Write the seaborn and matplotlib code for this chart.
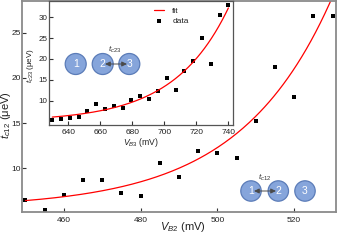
import numpy as np
import pandas as pd
import matplotlib
matplotlib.use('Agg')
import matplotlib.pyplot as plt
import seaborn as sns
from matplotlib.patches import Circle

# main panel: t_c12 against V_B2
vb2 = [450, 455, 460, 465, 470, 475, 480, 485, 490, 495, 500, 505, 510, 515, 520, 525, 530]
tc12 = [6.47, 5.44, 7.06, 8.71, 8.71, 7.24, 6.91, 10.55, 9.04, 11.94, 11.65, 11.14,
        15.25, 21.17, 17.9, 26.9, 26.9]

# inset: t_c23 against V_B3
vb3 = [630, 635.5, 641, 646.5, 652, 657.5, 663, 668.5, 674, 679.5, 685, 690.5, 696,
       701.5, 707, 712.5, 718, 723.5, 729, 734.5, 740]
tc23 = [5.3, 5.6, 5.8, 6.0, 7.55, 9.13, 7.95, 8.73, 8.35, 10.2, 11.1, 10.5, 12.26,
        15.5, 12.66, 17.1, 19.55, 25.1, 18.85, 30.6, 32.9]

# exponential fits: offset + amp*exp((V - v0)/tau)
fit12 = (5.6, 0.834, 450, 24.0)
fit23 = (5.0, 1.07, 630, 34.0)

sns.set_theme(style='ticks')
plt.rcParams['font.family'] = ['Liberation Sans', 'DejaVu Sans']
plt.rcParams['mathtext.fontset'] = 'custom'
plt.rcParams['mathtext.rm'] = 'Liberation Sans'
plt.rcParams['mathtext.it'] = 'Liberation Sans:italic'

TXT = '#222222'
DOT_FC = '#86a5db'
DOT_EC = '#5b7cb8'


def draw_panel(ax, x, y, fit, legend):
    off, amp, v0, tau = fit
    xs = np.linspace(min(x), max(x), 200)
    df_fit = pd.DataFrame({'V': xs, 't': off + amp * np.exp((xs - v0) / tau)})
    df = pd.DataFrame({'V': x, 't': y})
    sns.lineplot(data=df_fit, x='V', y='t', color='red', lw=0.9, ax=ax,
                 label='fit' if legend else None, legend=False)
    sns.scatterplot(data=df, x='V', y='t', marker='s', color='black', s=11,
                    linewidth=0, ax=ax, label='data' if legend else None, legend=False)


def dots(fig, ax, cy, cxs, r, arrow, lab, lab_xy):
    tr = fig.dpi_scale_trans
    H = fig.get_figheight() * fig.dpi
    for i, cx in enumerate(cxs):
        c = Circle((cx / fig.dpi, (H - cy) / fig.dpi), r / fig.dpi, transform=tr,
                   fc=DOT_FC, ec=DOT_EC, lw=0.9, clip_on=False, zorder=10)
        ax.add_patch(c)
        ax.text(cx / fig.dpi, (H - cy) / fig.dpi, str(i + 1), transform=tr,
                ha='center', va='center', color='white', fontsize=7.5, zorder=12)
    a0, a1 = arrow
    ax.annotate('', xy=(a1 / fig.dpi, (H - cy) / fig.dpi), xytext=(a0 / fig.dpi, (H - cy) / fig.dpi),
                xycoords=tr, textcoords=tr, zorder=13, annotation_clip=False,
                arrowprops=dict(arrowstyle='<|-|>,head_length=0.25,head_width=0.12',
                                color='#4a4a4a', lw=0.7, shrinkA=0, shrinkB=0))
    ax.text(lab_xy[0] / fig.dpi, (H - lab_xy[1]) / fig.dpi, lab, transform=tr,
            ha='center', va='center', color='#333333', fontsize=6, zorder=12)


fig = plt.figure(figsize=(3.37, 2.5), dpi=100)
ax = fig.add_axes([0.0653, 0.153, 0.9317, 0.845])
ax_in = fig.add_axes([0.1445, 0.502, 0.546, 0.493])
ax_in.set_facecolor('white')

draw_panel(ax, vb2, tc12, fit12, legend=False)
draw_panel(ax_in, vb3, tc23, fit23, legend=True)

ax.set_xlim(449.1, 530.9)
ax.set_ylim(5.2, 28.56)
ax.set_xticks([460, 480, 500, 520])
ax.set_yticks([10, 15, 20, 25])
ax_in.set_xlim(627.8, 742.7)
ax_in.set_ylim(4.3, 33.8)
ax_in.set_xticks([640, 660, 680, 700, 720, 740])
ax_in.set_yticks([10, 15, 20, 25, 30])

for a, col, lw in [(ax, '#8a8a8a', 1.3), (ax_in, '#555555', 0.9)]:
    for s in a.spines.values():
        s.set_visible(True)
        s.set_color(col)
        s.set_linewidth(lw)
    a.tick_params(direction='in', length=3, width=0.8, color='#333333',
                  labelsize=6, labelcolor=TXT)
ax.tick_params(axis='x', pad=3.5)
ax.tick_params(axis='y', pad=1)
ax_in.tick_params(axis='x', pad=3)
ax_in.tick_params(axis='y', pad=1, labelsize=5.8)

ax.set_xlabel(r'$V_{B2}$ (mV)', fontsize=8, color=TXT)
ax.set_ylabel(r'$t_{c12}$ (μeV)', fontsize=8, color=TXT)
ax.xaxis.set_label_coords(0.513, -0.04)
ax.yaxis.set_label_coords(-0.03, 0.457)
ax_in.set_xlabel(r'$V_{B3}$ (mV)', fontsize=6.2, color=TXT)
ax_in.set_ylabel(r'$t_{c23}$ (μeV)', fontsize=5.8, color=TXT)
ax_in.xaxis.set_label_coords(0.50, -0.09)
ax_in.yaxis.set_label_coords(-0.068, 0.48)

ax_in.legend(loc='upper left', bbox_to_anchor=(0.572, 0.95), frameon=False,
             fontsize=6, handlelength=1.2, handletextpad=1.0, labelspacing=0.25,
             borderaxespad=0, borderpad=0, labelcolor=TXT)

dots(fig, ax_in, 64, [75.7, 102.7, 129.3], 10.5, (105, 127), r'$t_{c23}$', (115, 50))
dots(fig, ax, 191, [251, 278.3, 305], 10.2, (254, 276), r'$t_{c12}$', (265, 178))

fig.savefig('out.png', dpi=100)
